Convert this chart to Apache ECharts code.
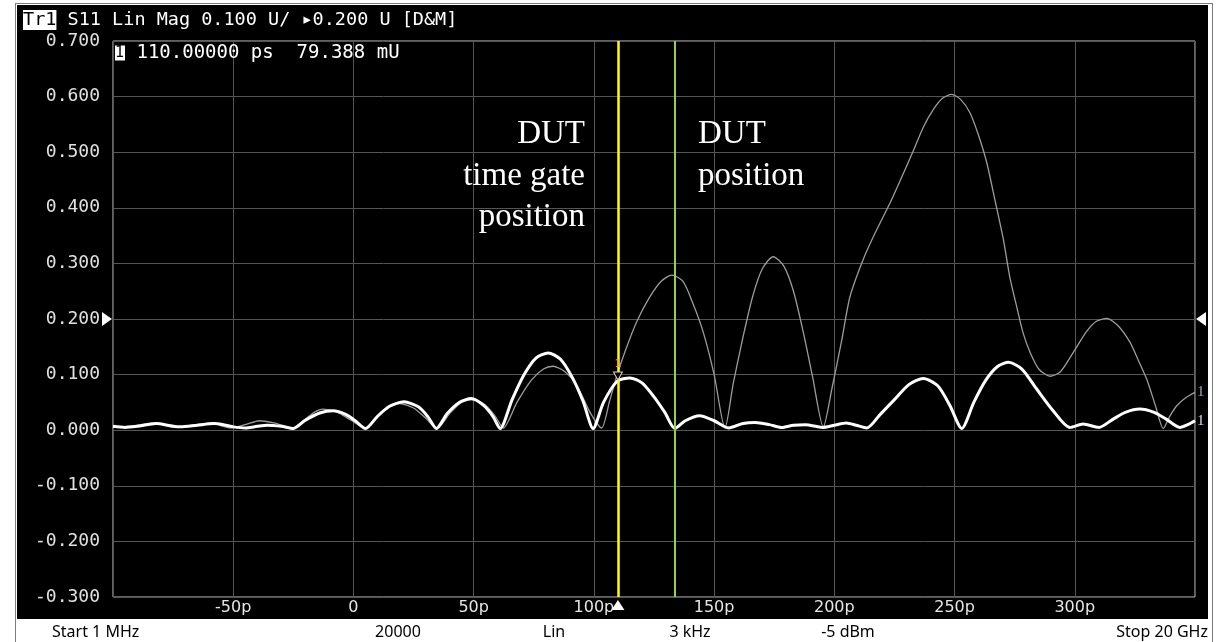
<!DOCTYPE html>
<html>
<head>
<meta charset="utf-8">
<title>S11 Lin Mag - time domain</title>
<script src="https://cdn.jsdelivr.net/npm/echarts@6.0.0/dist/echarts.min.js"></script>
<style>
  html, body { margin: 0; padding: 0; background: #fff; overflow: hidden; }
  #frame { position: absolute; left: 15px; top: 3px; width: 1196px; height: 660px; border: 1px solid #7a7a7a; }
  #panel { position: absolute; left: 17px; top: 5px; width: 1191px; height: 614px; background: #000; }
  #chartHome { position: absolute; left: 0; top: 0; width: 1230px; height: 642px; }
</style>
</head>
<body>
<div id="frame"></div>
<div id="panel"></div>
<div id="chartHome"></div>
<script>
// axes (time in ps, magnitude in U)
const xMin = -100, xMax = 350, xStep = 50
const yMin = -0.3, yMax = 0.7, yStep = 0.1
const refLevel = 0.2

// markers
const gatePs = 110          // marker 1 / time gate
const gateMag = 0.079388
const dutPs = 133.5

// gated trace (thick white)
const gatedPs = [-100, -95, -90, -82, -76, -72, -65, -58, -53, -50,
  -45, -40, -36, -30, -25, -20, -14, -8.5, -3, 1,
  5, 10, 15, 21, 27, 31, 34.5, 39, 44, 49,
  54, 58, 61, 66, 71, 76, 81, 86, 91, 95.5,
  99.7, 104, 109.7, 115, 120, 125, 129.5, 133.7, 138, 144,
  150, 156, 162, 167, 173, 178, 183, 188, 195, 200,
  205, 209, 213.5, 219, 225, 231, 237, 243, 248, 253,
  258, 263, 268, 272.5, 278, 284, 291, 298, 303.5, 310,
  316, 321, 327, 333, 338, 343.7, 347, 350]
const gatedMag = [0.007, 0.005, 0.007, 0.012, 0.008, 0.006, 0.009, 0.012, 0.009, 0.006,
  0.004, 0.007, 0.009, 0.007, 0.003, 0.018, 0.031, 0.035, 0.028, 0.016,
  0.003, 0.025, 0.043, 0.051, 0.042, 0.024, 0.003, 0.030, 0.050, 0.057,
  0.045, 0.025, 0.003, 0.055, 0.100, 0.130, 0.139, 0.128, 0.095, 0.052,
  0.003, 0.050, 0.088, 0.094, 0.085, 0.060, 0.032, 0.003, 0.017, 0.026,
  0.017, 0.004, 0.012, 0.014, 0.010, 0.005, 0.009, 0.010, 0.005, 0.009,
  0.013, 0.009, 0.004, 0.028, 0.055, 0.082, 0.093, 0.080, 0.045, 0.003,
  0.050, 0.090, 0.115, 0.122, 0.110, 0.075, 0.035, 0.005, 0.011, 0.005,
  0.020, 0.032, 0.038, 0.032, 0.020, 0.005, 0.010, 0.017]

// raw trace (thin grey)
const rawPs = [-100, -96, -91, -86, -82, -78, -75, -70, -64, -59,
  -55, -51, -45, -39, -33, -29, -25.5, -20, -16, -12.7,
  -7, -1, 5, 10, 15, 19.2, 25, 30, 34.7, 40,
  45, 50, 55, 59, 62.3, 68, 74, 79, 83, 88,
  93, 98.4, 103.2, 106.5, 109.7, 113, 117.8, 123, 128, 132.4,
  137, 141, 145.5, 150, 154.5, 158, 162.1, 166, 170, 174.6,
  179, 183, 187.1, 191, 195.4, 199, 203, 206.5, 212, 217,
  223.2, 228, 232.8, 237, 241.2, 245, 248.8, 252.5, 256.4, 260,
  263.4, 267, 270.3, 273, 275.8, 278.5, 281.4, 285, 289.7, 294,
  299.4, 305, 309, 313.3, 318, 323, 326.5, 329.9, 333.5, 336.8,
  339.5, 342.4, 346, 350]
const rawMag = [0.005, 0.006, 0.008, 0.012, 0.013, 0.009, 0.005, 0.007, 0.011, 0.013,
  0.008, 0.004, 0.010, 0.017, 0.013, 0.008, 0.004, 0.020, 0.033, 0.038,
  0.033, 0.018, 0.004, 0.025, 0.042, 0.048, 0.040, 0.022, 0.003, 0.030,
  0.050, 0.055, 0.045, 0.025, 0.004, 0.050, 0.090, 0.110, 0.115, 0.105,
  0.080, 0.032, 0.004, 0.052, 0.100, 0.142, 0.195, 0.238, 0.268, 0.279,
  0.268, 0.230, 0.176, 0.100, 0.004, 0.085, 0.169, 0.240, 0.290, 0.312,
  0.295, 0.250, 0.176, 0.095, 0.006, 0.075, 0.160, 0.240, 0.307, 0.355,
  0.409, 0.455, 0.502, 0.545, 0.577, 0.597, 0.604, 0.595, 0.571, 0.530,
  0.481, 0.410, 0.343, 0.275, 0.223, 0.175, 0.140, 0.110, 0.097, 0.105,
  0.140, 0.178, 0.196, 0.201, 0.188, 0.158, 0.125, 0.092, 0.045, 0.003,
  0.025, 0.044, 0.058, 0.068]

// texts
const headerText = '{tr|Tr1} S11 Lin Mag 0.100 U/ ▸0.200 U [D&M]'
const readoutText = '{m|1} 110.00000 ps  79.388 mU'
const gateNote = 'DUT\ntime gate\nposition'
const dutNote = 'DUT\nposition'
const statusLabels = ['Start 1 MHz', '20000', 'Lin', '3 kHz', '-5 dBm', 'Stop 20 GHz']

const pairs = (xs, ys) => xs.map((x, i) => [x, ys[i]])

const monoFont = 'DejaVu Sans Mono'
const statusX = [52, 398, 554, 690, 848, 1208]
const statusAlign = ['left', 'center', 'center', 'center', 'center', 'right']

const option = {
  animation: false,
  backgroundColor: 'transparent',
  grid: {
    left: 113, right: 35, top: 41, bottom: 45,
    show: true,
    borderColor: '#c4c4c4',
    borderWidth: 1,
    outerBoundsMode: 'none'
  },
  xAxis: {
    type: 'value',
    min: xMin, max: xMax, interval: xStep,
    axisLine: { show: false },
    axisTick: { show: false },
    splitLine: { show: true, lineStyle: { color: '#555555', width: 1 } },
    axisLabel: {
      showMinLabel: false,
      showMaxLabel: false,
      color: '#e6e6e6',
      fontFamily: 'DejaVu Sans',
      fontSize: 16,
      margin: 3,
      formatter: v => (v === 0 ? '0' : v + 'p')
    }
  },
  yAxis: {
    type: 'value',
    min: yMin, max: yMax, interval: yStep,
    axisLine: { show: false },
    axisTick: { show: false },
    splitLine: { show: true, lineStyle: { color: '#555555', width: 1 } },
    axisLabel: {
      color: '#e0e0e0',
      fontFamily: monoFont,
      fontSize: 18,
      margin: 13,
      formatter: v => (Math.abs(v) < 1e-9 ? 0 : v).toFixed(3)
    }
  },
  series: [
    {
      name: 'raw',
      type: 'line',
      data: pairs(rawPs, rawMag),
      showSymbol: false,
      smooth: 0.25,
      lineStyle: { color: '#9c9c9c', width: 1.3 },
      endLabel: { show: true, formatter: '1', color: '#9aa6b4', fontFamily: 'Liberation Serif', fontSize: 15, distance: 2 },
      z: 2
    },
    {
      name: 'gated',
      type: 'line',
      data: pairs(gatedPs, gatedMag),
      showSymbol: false,
      smooth: 0.25,
      lineStyle: { color: '#ffffff', width: 3 },
      endLabel: { show: true, formatter: '1', color: '#d8dce8', fontFamily: 'Liberation Serif', fontSize: 15, distance: 2 },
      z: 3,
      markLine: {
        silent: true,
        symbol: ['none', 'none'],
        label: { show: false },
        data: [
          { xAxis: gatePs, lineStyle: { color: '#ffff00', width: 2.5, type: 'solid' } },
          { xAxis: dutPs, lineStyle: { color: '#92d050', width: 2, type: 'solid' } }
        ]
      },
      markPoint: {
        silent: true,
        data: [
          { coord: [xMin, refLevel], symbol: 'triangle', symbolSize: [14, 10], symbolRotate: -90, symbolOffset: [-6, 0],
            itemStyle: { color: '#ffffff' }, label: { show: false } },
          { coord: [xMax, refLevel], symbol: 'triangle', symbolSize: [14, 10], symbolRotate: 90, symbolOffset: [6, 0],
            itemStyle: { color: '#ffffff' }, label: { show: false } },
          { coord: [gatePs, yMin], symbol: 'triangle', symbolSize: [13, 10], symbolOffset: [0, 8],
            itemStyle: { color: '#ffffff' }, label: { show: false } },
          { coord: [gatePs, gateMag], symbol: 'triangle', symbolSize: [9, 8], symbolRotate: 180, symbolOffset: [0, -10],
            itemStyle: { color: '#000000', borderColor: '#d0d0d0', borderWidth: 1 },
            label: { show: true, formatter: '1', position: 'top', distance: 2, color: '#f0a030', fontSize: 11, fontFamily: 'DejaVu Sans' } }
        ]
      }
    }
  ],
  graphic: [
    {
      type: 'text', x: 23, y: 20, z: 100,
      style: {
        text: headerText, fill: '#ffffff', fontFamily: monoFont, fontSize: 18.5, verticalAlign: 'middle',
        rich: { tr: { backgroundColor: '#ffffff', fill: '#000000', color: '#000000', fontFamily: monoFont, fontSize: 18.5, padding: [1, 0, 0, 0] } }
      }
    },
    {
      type: 'text', x: 115, y: 53, z: 100,
      style: {
        text: readoutText, fill: '#ffffff', fontFamily: monoFont, fontSize: 19, verticalAlign: 'middle',
        rich: { m: { backgroundColor: '#ffffff', fill: '#000000', color: '#000000', fontFamily: monoFont, fontSize: 15, padding: [0, 1, 0, 0] } }
      }
    },
    {
      type: 'text', x: 585, y: 114, z: 100,
      style: { text: gateNote, fill: '#ffffff', font: '33px "Liberation Serif"', align: 'right', verticalAlign: 'top', lineHeight: 41.5 }
    },
    {
      type: 'text', x: 698, y: 114, z: 100,
      style: { text: dutNote, fill: '#ffffff', font: '33px "Liberation Serif"', align: 'left', verticalAlign: 'top', lineHeight: 41.5 }
    }
  ].concat(statusLabels.map((t, i) => ({
    type: 'text', x: statusX[i], y: 632, z: 100,
    style: { text: t, fill: '#000000', font: '16px "Noto Sans"', align: statusAlign[i], verticalAlign: 'middle' }
  })))
}

const charts = echarts.init(document.getElementById('chartHome'))
charts.setOption(option)
</script>
</body>
</html>
